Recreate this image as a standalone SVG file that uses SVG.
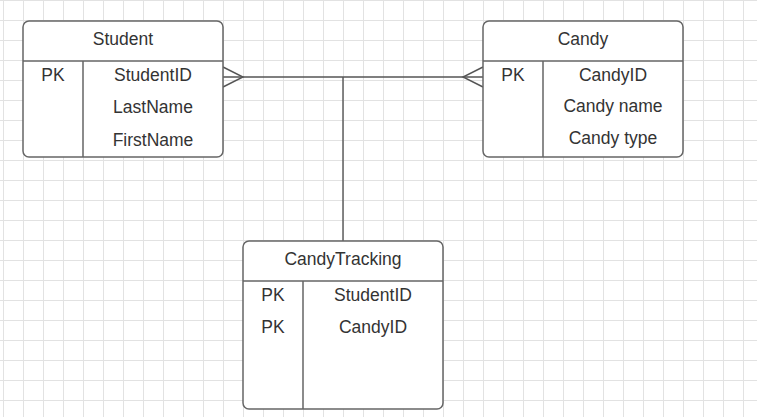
<svg xmlns="http://www.w3.org/2000/svg" width="757" height="417" viewBox="0 0 757 417">
<style>
.box{fill:#fff;stroke:#666;stroke-width:1.5}
.ln{stroke:#666;stroke-width:1.5;fill:none}
.conn{stroke:#555;stroke-width:1.4;fill:none}
text{font-family:"Liberation Sans",Arial,sans-serif;font-size:17.5px;fill:#333;text-anchor:middle}
</style>
<defs>
<pattern id="grid" x="3" y="0" width="20" height="20" patternUnits="userSpaceOnUse">
<path d="M0.5 0V20M0 0.5H20" stroke="#e2e2e2" stroke-width="1" fill="none"/>
</pattern>
</defs>
<rect width="757" height="417" fill="#fff"/>
<rect width="757" height="417" fill="url(#grid)"/>
<g id="connectors">
<path class="conn" d="M223 77H483"/>
<path class="conn" d="M343 77V241"/>
<path class="conn" d="M223 67L243 77L223 87"/>
<path class="conn" d="M483 67L463 77L483 87"/>
</g>
<g id="student">
<rect class="box" x="23" y="21" width="200" height="136" rx="6"/>
<path class="ln" d="M23 61H223M83 61V157"/>
<text x="123" y="45">Student</text>
<text x="53" y="81">PK</text>
<text x="153" y="81">StudentID</text>
<text x="153" y="113">LastName</text>
<text x="153" y="146">FirstName</text>
</g>
<g id="candy">
<rect class="box" x="483" y="21" width="200" height="136" rx="6"/>
<path class="ln" d="M483 61H683M543 61V157"/>
<text x="583" y="45">Candy</text>
<text x="513" y="81">PK</text>
<text x="613" y="81">CandyID</text>
<text x="613" y="112">Candy name</text>
<text x="613" y="144">Candy type</text>
</g>
<g id="candytracking">
<rect class="box" x="243" y="241" width="200" height="168" rx="6"/>
<path class="ln" d="M243 281H443M303 281V409"/>
<text x="343" y="265">CandyTracking</text>
<text x="273" y="301">PK</text>
<text x="373" y="301">StudentID</text>
<text x="273" y="333">PK</text>
<text x="373" y="333">CandyID</text>
</g>
</svg>
